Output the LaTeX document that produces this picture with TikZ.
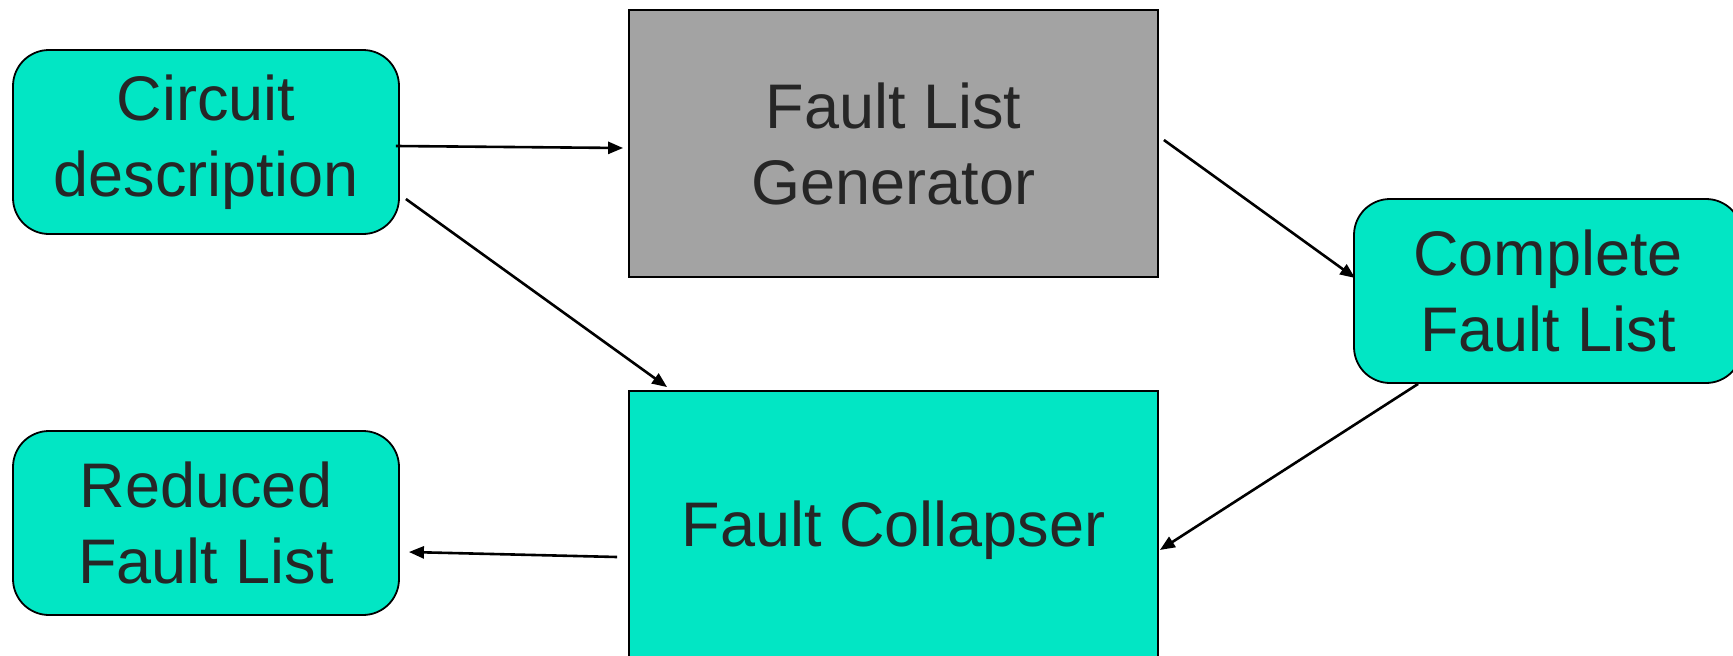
\documentclass[tikz,border=0pt]{standalone}
\usepackage{fontspec}
\setmainfont{Liberation Sans}
\usetikzlibrary{arrows.meta,calc}
\definecolor{aqua}{HTML}{02E6C4}
\definecolor{slate}{HTML}{A3A3A3}
\definecolor{ink}{HTML}{262626}
\tikzset{
  base/.style={draw=black, line width=1.8pt, text=ink, align=center,
    font=\fontsize{63}{76}\selectfont, inner sep=0pt},
  roundbox/.style={base, fill=aqua, rounded corners=36pt},
  flatbox/.style={base},
  arr/.style={draw=black, line width=2.6pt, -{Triangle[length=15pt,width=12pt]}}
}
\begin{document}
\begin{tikzpicture}[x=1pt,y=-1pt]
  \useasboundingbox (0,0) rectangle (1733,656);
  \fill[white] (0,0) rectangle (1733,656);

  \node[roundbox, minimum width=386pt, minimum height=184pt] (cd) at (206,142)
    {Circuit\\description};
  \node[flatbox, fill=slate, minimum width=529pt, minimum height=267pt] (flg) at (893.5,143.5)
    {Fault List\\Generator};
  \node[roundbox, minimum width=388pt, minimum height=184pt] (cfl) at (1548,291)
    {Complete\\Fault List};
  \node[flatbox, fill=aqua, minimum width=529pt, minimum height=278pt] (fc) at (893.5,530)
    {Fault Collapser};
  \node[roundbox, minimum width=386pt, minimum height=184pt] (rfl) at (206,523)
    {Reduced\\Fault List};

  \draw[arr] ($(cd.east)+(-4,4)$) -- ($(flg.west)+(-5,4.5)$);
  \draw[arr] ($(cd.east)+(6,57)$) -- ($(fc.north west)+(39,-3)$);
  \draw[arr] ($(flg.east)+(5,-3.5)$) -- ($(cfl.west)+(2,-13)$);
  \draw[arr] ($(cfl.south west)+(65,0)$) -- ($(fc.east)+(1,20)$);
  \draw[arr] ($(fc.west)+(-11,27)$) -- ($(rfl.east)+(9,29)$);
\end{tikzpicture}
\end{document}
